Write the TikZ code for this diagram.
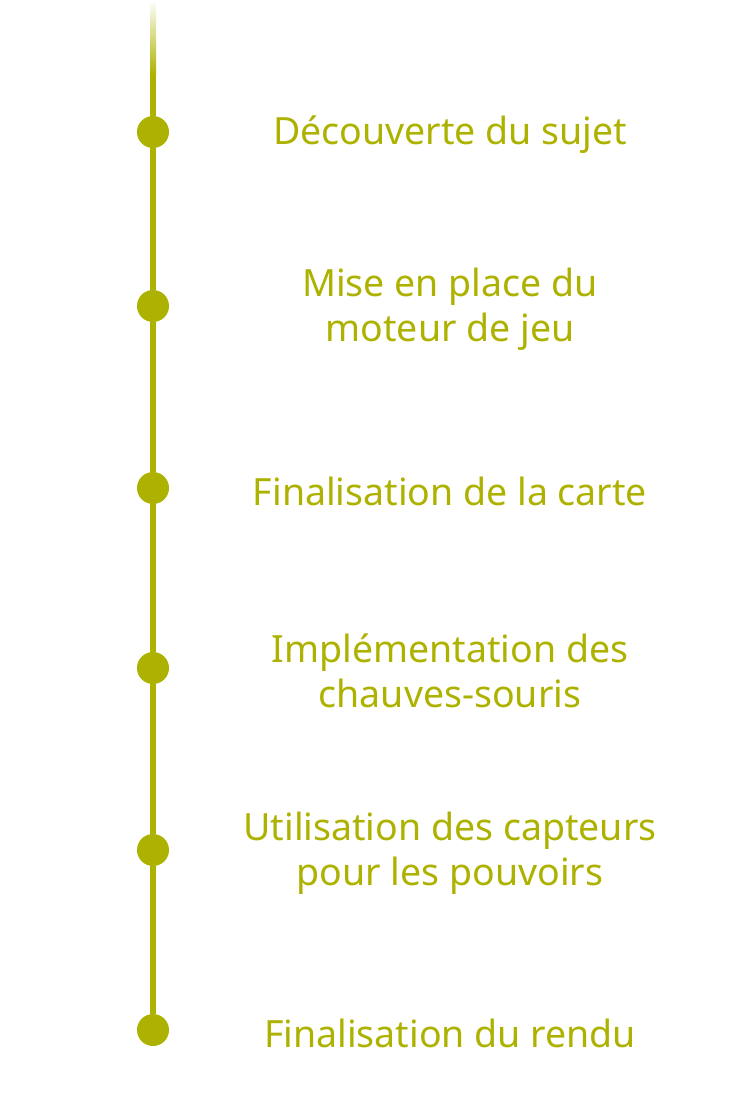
\documentclass[tikz,border=0pt]{standalone}
\usepackage{fontspec}
\setmainfont{Noto Sans}
\usepackage{tikz}
\usetikzlibrary{positioning}
\definecolor{olive}{RGB}{173,178,0}

\begin{document}
\begin{tikzpicture}[x=1pt,y=-1pt,
		dot/.style={circle,fill=olive,inner sep=0pt,minimum size=32pt},
		stage/.style={text=olive,align=center,yshift=-3pt,font=\fontsize{37.5}{45}\selectfont}]
				\useasboundingbox (0,0) rectangle (745,1093);
				\coordinate (top) at (153, 0);
				\coordinate (fade) at (153, 75);
				\node[dot] (d1) at (153, 132) {};
				\node[dot] (d2) at (153, 306) {};
				\node[dot] (d3) at (153, 488) {};
				\node[dot] (d4) at (153, 668) {};
				\node[dot] (d5) at (153, 850) {};
				\node[dot] (d6) at (153, 1030) {};
				\node[stage] (t1) at (450, 132) {Découverte du sujet};
				\node[stage] (t2) at (450, 306) {Mise en place du\\moteur de jeu};
				\node[stage] (t3) at (450, 488) {Finalisation de la carte};
				\node[stage] (t4) at (450, 668) {Implémentation des\\chauves-souris};
				\node[stage] (t5) at (450, 850) {Utilisation des capteurs\\pour les pouvoirs};
				\node[stage] (t6) at (450, 1030) {Finalisation du rendu};

				\shade [top color=white, bottom color=olive] ([xshift=-3pt]top) rectangle ([xshift=3pt]fade);
				\draw [-, line width=6pt, olive] (fade) to (d1);
				\draw [-, line width=6pt, olive] (d1) to (d2);
				\draw [-, line width=6pt, olive] (d2) to (d3);
				\draw [-, line width=6pt, olive] (d3) to (d4);
				\draw [-, line width=6pt, olive] (d4) to (d5);
				\draw [-, line width=6pt, olive] (d5) to (d6);
		\end{tikzpicture}
\end{document}
